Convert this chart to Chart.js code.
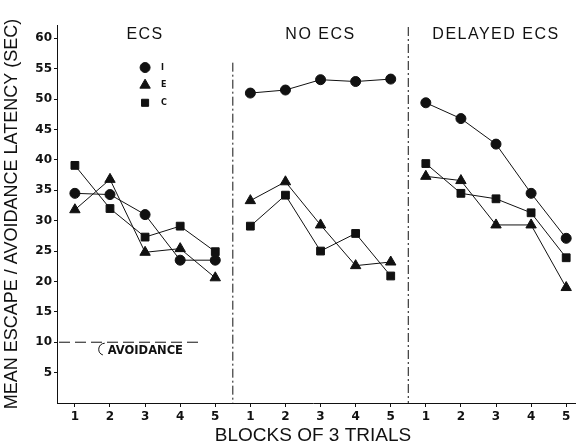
<!DOCTYPE html>
<html>
<head>
<meta charset="utf-8">
<script src="https://cdn.jsdelivr.net/npm/chart.js@4.4.1/dist/chart.umd.min.js"></script>
<style>
    html, body { margin: 0; padding: 0; background: #fff; }
    #wrap { width: 576px; height: 448px; position: relative; }
</style>
</head>
<body>
<div id="wrap"><canvas id="graficoLatenza"></canvas></div>
<script>
// pannelli e blocchi
const panels = ['ECS', 'NO ECS', 'DELAYED ECS'];
const blocks = [1, 2, 3, 4, 5];
const yTicks = [5, 10, 15, 20, 25, 30, 35, 40, 45, 50, 55, 60];
const groups = ['I', 'E', 'C'];

// ECS
const ecsI = [34.5, 34.3, 31.0, 23.5, 23.5];
const ecsE = [31.8, 36.8, 24.8, 25.4, 20.6];
const ecsC = [39.1, 32.0, 27.3, 29.1, 24.9];
// NO ECS
const noEcsI = [51.0, 51.5, 53.2, 52.9, 53.3];
const noEcsE = [33.3, 36.4, 29.3, 22.6, 23.2];
const noEcsC = [29.1, 34.2, 25.0, 27.9, 20.9];
// DELAYED ECS
const delI = [49.4, 46.8, 42.6, 34.5, 27.1];
const delE = [37.3, 36.6, 29.3, 29.3, 19.0];
const delC = [39.4, 34.5, 33.6, 31.3, 23.9];

const avoidance = 10;

function buildSeries(perPanel) {
    const pts = [];
    perPanel.forEach((vals, p) => {
        blocks.forEach((b, i) => pts.push({ x: p * 5 + b, y: vals[i] }));
        if (p < perPanel.length - 1) pts.push({ x: p * 5 + 5.5, y: null });
    });
    return pts;
}

const seriesI = buildSeries([ecsI, noEcsI, delI]);
const seriesE = buildSeries([ecsE, noEcsE, delE]);
const seriesC = buildSeries([ecsC, noEcsC, delC]);

const xPositions = [];
panels.forEach((p, i) => blocks.forEach(b => xPositions.push(i * 5 + b)));

const ink = '#111';

const overlay = {
    id: 'overlay',
    afterDatasetsDraw(chart) {
        const { ctx, chartArea, scales: { x, y } } = chart;
        ctx.save();
        ctx.strokeStyle = ink;
        ctx.fillStyle = ink;
        ctx.lineWidth = 1;

        // asse x fino al bordo
        ctx.beginPath();
        ctx.moveTo(chartArea.right, chartArea.bottom + 0.5);
        ctx.lineTo(chart.width, chartArea.bottom + 0.5);
        ctx.stroke();

        // separatori tratteggiati
        ctx.setLineDash([9, 3, 2, 3]);
        ctx.beginPath();
        ctx.moveTo(x.getPixelForValue(5.5), y.getPixelForValue(56));
        ctx.lineTo(x.getPixelForValue(5.5), chartArea.bottom);
        ctx.moveTo(x.getPixelForValue(10.5), chartArea.top + 2);
        ctx.lineTo(x.getPixelForValue(10.5), chartArea.bottom);
        ctx.stroke();

        // linea di evitamento
        ctx.setLineDash([11, 5]);
        ctx.beginPath();
        const ya = y.getPixelForValue(avoidance);
        ctx.moveTo(chartArea.left + 2, ya);
        ctx.lineTo(x.getPixelForValue(4.55), ya);
        ctx.stroke();
        ctx.setLineDash([]);
        ctx.beginPath();
        const bx = x.getPixelForValue(1.85);
        ctx.arc(bx, ya + 7, 6, Math.PI * 1.5, Math.PI * 0.6, true);
        ctx.stroke();
        ctx.font = 'bold 11.5px "DejaVu Sans"';
        ctx.textBaseline = 'middle';
        ctx.textAlign = 'left';
        ctx.fillText('AVOIDANCE', bx + 3, ya + 9);

        // titoli dei pannelli
        ctx.font = '16px "Liberation Sans"';
        ctx.letterSpacing = '1.5px';
        ctx.textAlign = 'center';
        panels.forEach((p, i) => {
            ctx.fillText(p, x.getPixelForValue(i * 5 + 3), chartArea.top + 10);
        });
        ctx.letterSpacing = '0px';

        // legenda
        const styles = ['circle', 'triangle', 'rect'];
        const radii = [5, 6, 5];
        ctx.font = 'bold 8px "DejaVu Sans"';
        ctx.textAlign = 'left';
        groups.forEach((g, i) => {
            const lx = x.getPixelForValue(3);
            const ly = y.getPixelForValue(55.2 - i * 2.9);
            Chart.helpers.drawPoint(ctx, { pointStyle: styles[i], radius: radii[i], borderWidth: 1 }, lx, ly);
            ctx.fillText(g, lx + 16, ly);
        });
        ctx.restore();
    }
};

function dataset(label, data, style, radius) {
    return {
        label: label,
        data: data,
        borderColor: ink,
        backgroundColor: ink,
        borderWidth: 1,
        pointStyle: style,
        pointRadius: radius,
        pointBackgroundColor: ink,
        pointBorderColor: ink,
        spanGaps: false,
        clip: false,
        tension: 0
    };
}

new Chart(document.getElementById('graficoLatenza'), {
    type: 'line',
    data: {
        datasets: [
            dataset('I', seriesI, 'circle', 5),
            dataset('E', seriesE, 'triangle', 6),
            dataset('C', seriesC, 'rect', 5.5)
        ]
    },
    options: {
        responsive: true,
        maintainAspectRatio: false,
        animation: false,
        layout: { padding: { top: 25, right: 0, left: 0, bottom: 0 } },
        plugins: {
            legend: { display: false },
            tooltip: { enabled: false }
        },
        scales: {
            x: {
                type: 'linear',
                min: 0.49,
                max: 15.08,
                afterFit: s => { s.height = 45; },
                afterBuildTicks: s => { s.ticks = xPositions.map(v => ({ value: v })); },
                border: { color: ink, width: 1 },
                grid: { drawOnChartArea: false, color: ink, tickLength: 4 },
                ticks: {
                    color: ink,
                    padding: 3,
                    maxRotation: 0,
                    autoSkip: false,
                    font: { family: 'DejaVu Sans', size: 12, weight: 'bold' },
                    callback: v => String((v - 1) % 5 + 1)
                },
                title: {
                    display: true,
                    text: 'BLOCKS OF 3 TRIALS',
                    color: ink,
                    font: { family: 'Liberation Sans', size: 19 },
                    padding: { top: 0, bottom: 1 }
                }
            },
            y: {
                min: 0,
                max: 62.2,
                afterFit: s => { s.width = 57; },
                afterBuildTicks: s => { s.ticks = yTicks.map(v => ({ value: v })); },
                border: { color: ink, width: 1 },
                grid: { drawOnChartArea: false, color: ink, tickLength: 3 },
                ticks: {
                    color: ink,
                    padding: 2,
                    font: { family: 'DejaVu Sans', size: 12, weight: 'bold' }
                },
                title: {
                    display: true,
                    text: 'MEAN ESCAPE / AVOIDANCE LATENCY (SEC)',
                    color: ink,
                    font: { family: 'Liberation Sans', size: 18 },
                    padding: { top: 1, bottom: 0 }
                }
            }
        }
    },
    plugins: [overlay]
});
</script>
</body>
</html>
